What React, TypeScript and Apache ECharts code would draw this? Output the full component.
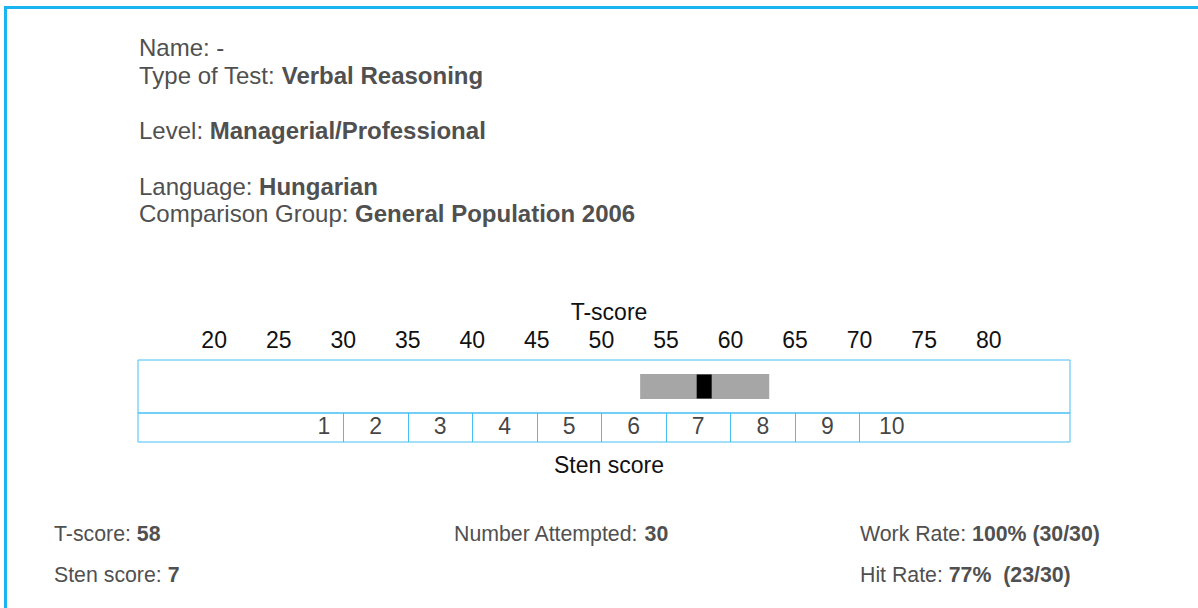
import React, { useEffect, useRef } from "react";
import * as echarts from "echarts";

// ---- data ----
const tScoreTicks = [20, 25, 30, 35, 40, 45, 50, 55, 60, 65, 70, 75, 80];
const stenLabels = ["1", "2", "3", "4", "5", "6", "7", "8", "9", "10"];
const stenLabelPositions = [28.5, 32.5, 37.5, 42.5, 47.5, 52.5, 57.5, 62.5, 67.5, 72.5];
const stenBoundaries = [30, 35, 40, 45, 50, 55, 60, 65, 70];
const tScore = 58;
const bandLow = 53;
const bandHigh = 63;
const axisMin = 14.1;
const axisMax = 86.3;

const headerLabels = ["Name: ", "Type of Test: ", "Level: ", "Language: ", "Comparison Group: "];
const headerValues = ["-", "Verbal Reasoning", "Managerial/Professional", "Hungarian", "General Population 2006"];
const headerBold = [false, true, true, true, true];

const statLabels = ["T-score: ", "Sten score: ", "Number Attempted: ", "Work Rate: ", "Hit Rate: "];
const statValues = ["58", "7", "30", "100% (30/30)", "77%  (23/30)"];

// ---- layout ----
const FONT = '"Liberation Sans", Arial, Helvetica, sans-serif';
const TEXT_GRAY = "#505050";
const BOX_BLUE = "#45bff2";
const FRAME_BLUE = "#1ab4f0";
const headerPos = [
  [139, 47],
  [139, 75],
  [139, 130],
  [139, 186],
  [139, 213],
];
const statPos = [
  [54, 534],
  [54, 575],
  [454, 534],
  [860, 534],
  [860, 575],
];

function richText(label: string, value: string, bold: boolean, size: number, x: number, y: number) {
  return {
    type: "text",
    x,
    y,
    style: {
      text: `{n|${label}}{${bold ? "b" : "n"}|${value}}`,
      verticalAlign: "middle",
      align: "left",
      rich: {
        n: { fontSize: size, fontFamily: FONT, fill: TEXT_GRAY, fontWeight: "normal" },
        b: { fontSize: size, fontFamily: FONT, fill: TEXT_GRAY, fontWeight: "bold" },
      },
    },
  };
}

export default function App() {
  const ref = useRef<HTMLDivElement>(null);

  useEffect(() => {
    if (!ref.current) return;
    const chart = echarts.init(ref.current, undefined, { renderer: "svg" });

    const graphics: any[] = [
      { type: "line", shape: { x1: 4, y1: 7.5, x2: 1198, y2: 7.5 }, style: { stroke: FRAME_BLUE, lineWidth: 3 } },
      { type: "line", shape: { x1: 5.5, y1: 6, x2: 5.5, y2: 608 }, style: { stroke: FRAME_BLUE, lineWidth: 3 } },
    ];
    headerLabels.forEach((l, i) => {
      graphics.push(richText(l, headerValues[i], headerBold[i], 24, headerPos[i][0], headerPos[i][1]));
    });
    statLabels.forEach((l, i) => {
      graphics.push(richText(l, statValues[i], true, 21.3, statPos[i][0], statPos[i][1]));
    });

    const option: any = {
      animation: false,
      backgroundColor: "#ffffff",
      textStyle: { fontFamily: FONT },
      graphic: graphics,
      grid: [
        { left: 138, top: 360, width: 932, height: 53, show: true, borderColor: BOX_BLUE, borderWidth: 1, backgroundColor: "transparent" },
        { left: 138, top: 413, width: 932, height: 29, show: true, borderColor: BOX_BLUE, borderWidth: 1, backgroundColor: "transparent" },
      ],
      xAxis: [
        {
          type: "value",
          gridIndex: 0,
          position: "top",
          min: axisMin,
          max: axisMax,
          name: "T-score",
          nameLocation: "middle",
          nameGap: 37,
          nameTextStyle: { fontSize: 23, color: "#111", fontFamily: FONT, padding: [0, 0, 0, 10] },
          axisLine: { show: false },
          axisTick: { show: false },
          splitLine: { show: false },
          axisLabel: {
            customValues: tScoreTicks,
            fontSize: 23,
            color: "#111",
            fontFamily: FONT,
            margin: 9,
          },
        },
        {
          type: "value",
          gridIndex: 1,
          position: "bottom",
          min: axisMin,
          max: axisMax,
          name: "Sten score",
          nameLocation: "middle",
          nameGap: 11,
          nameTextStyle: { fontSize: 23, color: "#111", fontFamily: FONT, padding: [0, 0, 0, 10] },
          axisLine: { show: false },
          axisTick: { show: false },
          splitLine: { show: false },
          axisLabel: { show: false },
        },
      ],
      yAxis: [
        { type: "value", gridIndex: 0, min: 0, max: 1, show: false },
        { type: "value", gridIndex: 1, min: 0, max: 1, show: false },
      ],
      series: [
        {
          type: "custom",
          xAxisIndex: 0,
          yAxisIndex: 0,
          data: [[bandLow, bandHigh]],
          encode: { x: [0, 1] },
          renderItem: (params: any, api: any) => {
            const cs = params.coordSys;
            const x0 = api.coord([api.value(0), 0.5])[0];
            const x1 = api.coord([api.value(1), 0.5])[0];
            return {
              type: "rect",
              shape: { x: x0, y: cs.y + 14, width: x1 - x0, height: 25 },
              style: { fill: "#a6a6a6" },
            };
          },
        },
        {
          type: "custom",
          xAxisIndex: 0,
          yAxisIndex: 0,
          data: [[tScore]],
          encode: { x: 0 },
          renderItem: (params: any, api: any) => {
            const cs = params.coordSys;
            const xc = api.coord([api.value(0), 0.5])[0];
            return {
              type: "rect",
              shape: { x: xc - 8, y: cs.y + 14.5, width: 15, height: 24 },
              style: { fill: "#000000" },
            };
          },
        },
        {
          type: "scatter",
          xAxisIndex: 1,
          yAxisIndex: 1,
          symbolSize: 0,
          silent: true,
          data: stenLabelPositions.map((x, i) => [x, 0.5, stenLabels[i]]),
          label: {
            show: true,
            position: "inside",
            offset: [0, -1.5],
            formatter: (p: any) => p.value[2],
            fontSize: 23,
            color: "#111",
            fontFamily: FONT,
          },
          markLine: {
            silent: true,
            symbol: "none",
            label: { show: false },
            lineStyle: { color: BOX_BLUE, width: 1, type: "solid" },
            data: stenBoundaries.map((v) => ({ xAxis: v })),
          },
        },
      ],
    };

    chart.setOption(option);
    return () => chart.dispose();
  }, []);

  return (
    <div
      ref={ref}
      style={{ position: "fixed", left: 0, top: 0, width: 1198, height: 608, background: "#fff" }}
    />
  );
}
